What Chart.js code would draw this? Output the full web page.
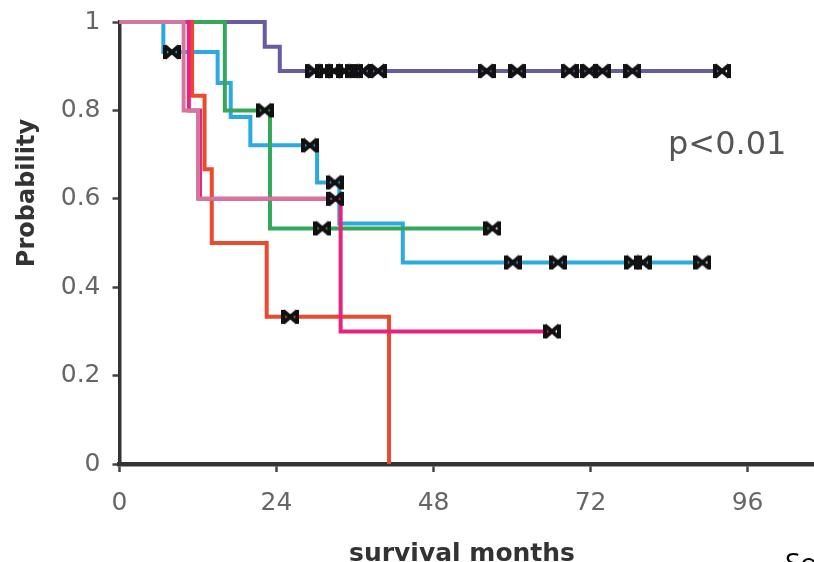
<!DOCTYPE html>
<html><head><meta charset="utf-8">
<script src="https://cdn.jsdelivr.net/npm/chart.js@4.4.1/dist/chart.umd.min.js"></script>
<style>html,body{margin:0;padding:0;background:#fff;overflow:hidden;width:814px;height:562px}canvas{display:block}</style>
</head><body>
<canvas id="c" width="823" height="562" style="width:823px;height:562px"></canvas>
<script>
// ---- data ----
const xTicks = [0, 24, 48, 72, 96];
const yTicks = [0, 0.2, 0.4, 0.6, 0.8, 1];

const purpleTimes  = [0, 22.2, 24.5, 92.1];
const purpleSurv   = [1, 0.944, 0.889, 0.889];
const purpleCensor = [29.8, 31.3, 32.8, 34.4, 35.8, 37.2, 39.5, 56.1, 60.8, 68.8, 71.8, 73.8, 78.4, 92.1];

const blueTimes  = [0, 6.7, 15.0, 17.0, 20.0, 30.2, 33.6, 43.3, 89.1];
const blueSurv   = [1, 0.932, 0.862, 0.785, 0.721, 0.637, 0.544, 0.456, 0.456];
const blueCensor = [8.0, 29.1, 32.9, 60.1, 67.0, 78.5, 80.0, 89.1];

const greenTimes  = [0, 16.1, 23.0, 57.0];
const greenSurv   = [1, 0.8, 0.533, 0.533];
const greenCensor = [22.2, 31.0, 57.0];

const redTimes  = [0, 11.1, 13.0, 14.1, 22.5, 41.2];
const redSurv   = [1, 0.833, 0.667, 0.5, 0.333, 0];
const redCensor = [26.1];

const pinkTimes  = [0, 10.6, 12.3, 33.8, 66.1];
const pinkSurv   = [1, 0.8, 0.6, 0.3, 0.3];
const pinkCensor = [66.1];

const mauveTimes  = [0, 9.8, 12.0, 33.0];
const mauveSurv   = [1, 0.8, 0.6, 0.6];
const mauveCensor = [33.0];

const pValueText = 'p<0.01';

// ---- helpers ----
function pts(times, surv){ return times.map((t,i)=>({x:t, y:surv[i]})); }
function stepAt(times, surv, t){ let v = surv[0]; for (let i=0;i<times.length;i++){ if (times[i] <= t) v = surv[i]; } return v; }
function censorPts(times, surv, cens){ return cens.map(t=>({x:t, y:stepAt(times, surv, t)})); }

const groups = [
  {t: mauveTimes,  s: mauveSurv,  c: mauveCensor,  color: '#d0789e'},
  {t: pinkTimes,   s: pinkSurv,   c: pinkCensor,   color: '#e8237f'},
  {t: redTimes,    s: redSurv,    c: redCensor,    color: '#ea4a2e'},
  {t: greenTimes,  s: greenSurv,  c: greenCensor,  color: '#34a85a'},
  {t: blueTimes,   s: blueSurv,   c: blueCensor,   color: '#2aaae0'},
  {t: purpleTimes, s: purpleSurv, c: purpleCensor, color: '#6a5aa0'}
];

// censor marker (bow-tie cross)
const mk = document.createElement('canvas');
mk.width = 18; mk.height = 16;
(function(){
  const g = mk.getContext('2d');
  g.strokeStyle = '#111'; g.lineWidth = 4; g.lineCap = 'butt';
  g.beginPath();
  g.moveTo(2,2); g.lineTo(16,14);
  g.moveTo(2,14); g.lineTo(16,2);
  g.moveTo(2,1); g.lineTo(2,15);
  g.moveTo(16,1); g.lineTo(16,15);
  g.stroke();
})();

let censorAll = [];
groups.forEach(g => { censorAll = censorAll.concat(censorPts(g.t, g.s, g.c)); });

const datasets = [{
  type: 'line',
  data: censorAll,
  showLine: false,
  pointStyle: mk,
  pointRadius: 9,
  clip: false
}];
groups.forEach(g => {
  datasets.push({
    type: 'line',
    data: pts(g.t, g.s),
    stepped: true,
    borderColor: g.color,
    borderWidth: 4,
    pointRadius: 0,
    fill: false,
    clip: false
  });
});

const textPlugin = {
  id: 'texts',
  afterDraw(chart){
    const ctx = chart.ctx;
    ctx.save();
    ctx.fillStyle = '#333';
    ctx.font = 'bold 24px "DejaVu Sans"';
    ctx.textAlign = 'center';
    ctx.textBaseline = 'alphabetic';
    ctx.save();
    ctx.translate(34, 193);
    ctx.rotate(-Math.PI/2);
    ctx.fillText('Probability', 0, 0);
    ctx.restore();
    ctx.font = 'bold 25px "DejaVu Sans"';
    ctx.fillText('survival months', 462, 561);
    ctx.fillStyle = '#555';
    ctx.font = '32px "DejaVu Sans"';
    ctx.textAlign = 'left';
    ctx.fillText(pValueText, 668, 154);
    ctx.fillStyle = '#000';
    ctx.font = '28px "Open Sans"';
    ctx.fillText('So', 785, 573);
    ctx.restore();
  }
};

function noPad(s){ s.paddingTop = 0; s.paddingBottom = 0; s.paddingLeft = 0; s.paddingRight = 0; }

new Chart(document.getElementById('c'), {
  type: 'line',
  data: { datasets },
  plugins: [textPlugin],
  options: {
    responsive: false,
    animation: false,
    devicePixelRatio: 1,
    layout: { padding: { top: 22, left: 0, right: 0, bottom: 0 } },
    plugins: { legend: { display: false }, tooltip: { enabled: false } },
    scales: {
      x: {
        type: 'linear', min: 0, max: 106,
        afterBuildTicks: s => { s.ticks = xTicks.map(v => ({value: v})); },
        afterFit: s => { s.height = 98; noPad(s); },
        grid: { display: true, drawOnChartArea: false, drawTicks: true, tickLength: 8, tickColor: '#444', tickWidth: 2.5 },
        border: { display: true, color: '#333', width: 4.5 },
        ticks: { color: '#666', font: { family: 'DejaVu Sans', size: 25 }, padding: 16, maxRotation: 0, autoSkip: false }
      },
      y: {
        type: 'linear', min: 0, max: 1,
        afterBuildTicks: s => { s.ticks = yTicks.map(v => ({value: v})); },
        afterFit: s => { s.width = 119.5; noPad(s); },
        grid: { display: true, drawOnChartArea: false, drawTicks: true, tickLength: 7, tickColor: '#444', tickWidth: 2.5 },
        border: { display: true, color: '#333', width: 3.5 },
        ticks: { color: '#666', font: { family: 'DejaVu Sans', size: 25 }, padding: 12, autoSkip: false,
                 callback: v => String(v) }
      }
    }
  }
});
</script>
</body></html>
